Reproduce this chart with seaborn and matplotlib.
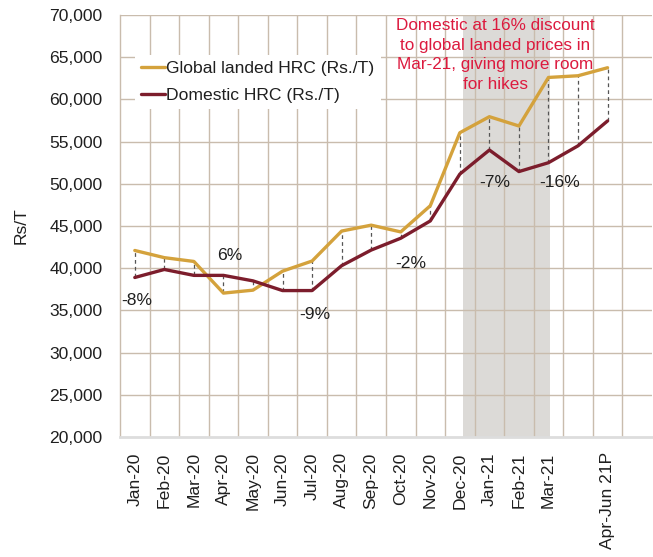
import numpy as np
import pandas as pd
import matplotlib
matplotlib.use("Agg")
import matplotlib.pyplot as plt
import seaborn as sns

# chart values
months = ['Jan-20', 'Feb-20', 'Mar-20', 'Apr-20', 'May-20', 'Jun-20', 'Jul-20',
          'Aug-20', 'Sep-20', 'Oct-20', 'Nov-20', 'Dec-20', 'Jan-21', 'Feb-21',
          'Mar-21', '', 'Apr-Jun 21P']
global_hrc = [42100, 41250, 40800, 37050, 37400, 39650, 40850, 44400, 45100,
              44300, 47400, 56050, 57950, 56850, 62600, 62800, 63750]
domestic_hrc = [38900, 39850, 39150, 39150, 38500, 37350, 37350, 40300, 42150,
                43550, 45600, 51150, 54000, 51450, 52500, 54500, 57450]
gap_labels = ['-8%', '6%', '-9%', '-2%', '-7%', '-16%']
note = 'Domestic at 16% discount\nto global landed prices in\nMar-21, giving more room\nfor hikes'

df = pd.DataFrame({'pos': np.arange(len(months)),
                   'month': months,
                   'Global landed HRC (Rs./T)': global_hrc,
                   'Domestic HRC (Rs./T)': domestic_hrc})
long_df = df.melt(id_vars=['pos', 'month'], var_name='series', value_name='price')

sns.set_theme(style='white')
plt.rcParams['font.family'] = ['Liberation Sans', 'DejaVu Sans']

grid_col = '#c9bcad'
text_col = '#1f1f1f'
fs = 12.6

fig = plt.figure(figsize=(6.53, 5.57), dpi=100)
ax = fig.add_axes([0.1838, 0.2154, 0.8145, 0.7577])

# shaded window Dec-20 .. Mar-21
ax.axvspan(11.1, 14.05, color='#dcdad7', zorder=0, lw=0)

# gridlines: horizontal at every 5,000, vertical between categories
for yv in range(25000, 70001, 5000):
    ax.axhline(yv, color=grid_col, lw=1.0, zorder=1)
for xv in np.arange(0.5, len(months), 1.0):
    ax.axvline(xv, color=grid_col, lw=1.0, zorder=1)

# high-low drop lines between the two series
ax.vlines(df['pos'], df['Domestic HRC (Rs./T)'], df['Global landed HRC (Rs./T)'],
          colors='#555555', linestyles=(0, (3, 2.5)), lw=0.9, zorder=2)

sns.lineplot(data=long_df, x='pos', y='price', hue='series',
             palette=['#d4a23c', '#7c1d2c'], lw=2.4, ax=ax, zorder=3)

ax.set_xlim(-0.5, 17.5)
ax.set_ylim(20000, 70000)
ax.set_yticks(range(20000, 70001, 5000))
ax.set_yticklabels([f'{v:,}' for v in range(20000, 70001, 5000)])
ax.set_xticks(df['pos'])
ax.set_xticklabels(months, rotation=90)
ax.tick_params(axis='both', length=0, labelsize=fs, colors=text_col)
ax.tick_params(axis='y', pad=12.5)
ax.tick_params(axis='x', pad=11)
ax.set_xlabel('')
ax.set_ylabel('Rs/T', fontsize=fs, color=text_col)
ax.yaxis.set_label_coords(-0.172, 0.5)

for side in ['top', 'right']:
    ax.spines[side].set_visible(False)
ax.spines['left'].set_color(grid_col)
ax.spines['left'].set_linewidth(1.0)
ax.spines['bottom'].set_color('#dddddd')
ax.spines['bottom'].set_linewidth(2.0)

# percentage gap labels
gap_pos = [(0.07, 36200), (3.2, 41450), (6.08, 34550), (9.35, 40600),
           (12.18, 50100), (14.37, 50100)]
for lab, (gx, gy) in zip(gap_labels, gap_pos):
    ax.text(gx, gy, lab, ha='center', va='center', fontsize=fs, color=text_col, zorder=5)

ax.text(12.2, 65250, note, ha='center', va='center', fontsize=12.3,
        color='#dc1a3e', linespacing=1.38, zorder=5)

leg = ax.legend(loc='upper left', bbox_to_anchor=(0.028, 0.905), fontsize=fs,
                frameon=True, framealpha=1, edgecolor='none', fancybox=False,
                handlelength=1.35, handletextpad=0.1, borderpad=0.35,
                labelspacing=0.65, borderaxespad=0)
leg.set_zorder(4)
for t in leg.get_texts():
    t.set_color(text_col)

fig.savefig('out.png', dpi=100)
